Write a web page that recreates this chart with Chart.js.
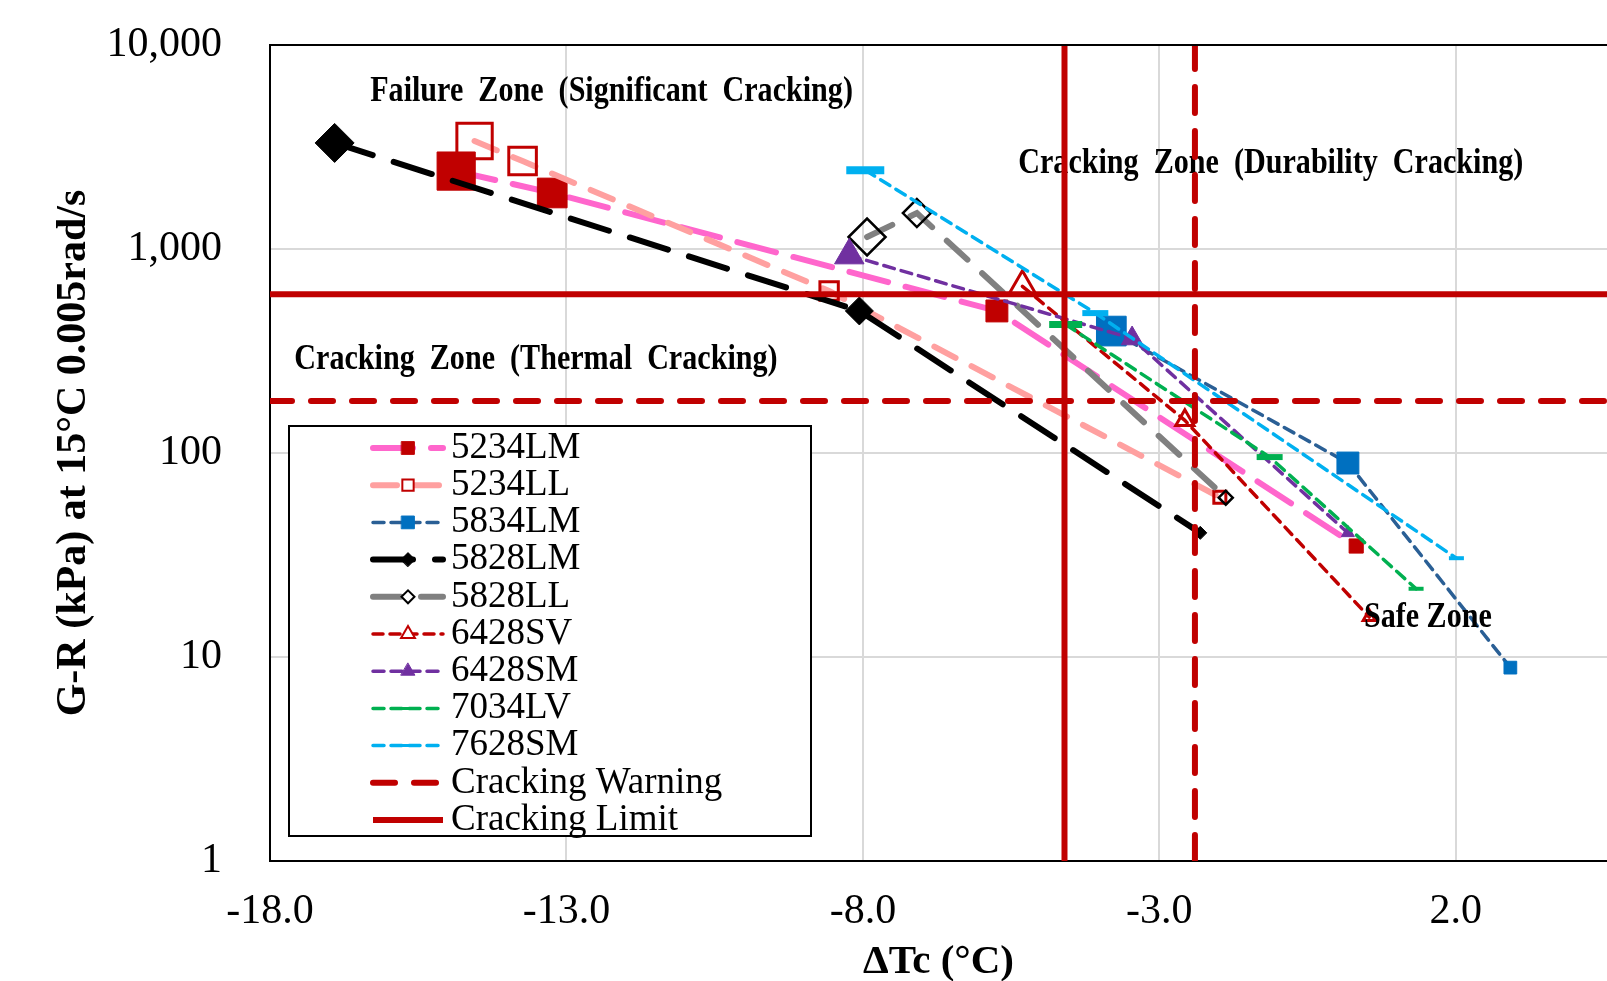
<!DOCTYPE html>
<html>
<head>
<meta charset="utf-8">
<script src="https://cdn.jsdelivr.net/npm/chart.js@4.4.0/dist/chart.umd.min.js"></script>
<style>
  html, body { margin: 0; padding: 0; background: #fff; }
  #wrap { position: relative; width: 1607px; height: 981px; }
</style>
</head>
<body>
<div id="wrap"><canvas id="myChart"></canvas></div>
<script>
// binders in legend order
var names = ['5234LM', '5234LL', '5834LM', '5828LM', '5828LL', '6428SV', '6428SM', '7034LV', '7628SM'];

// delta Tc (C) and G-R (kPa)
var dtc5234LM = [-14.86, -13.24, -5.74, 0.32];
var gr5234LM = [2410, 1882, 497, 35.0];
var dtc5234LL = [-14.55, -13.74, -8.57, -1.98];
var gr5234LL = [3384, 2698, 622, 60.7];
var dtc5834LM = [-3.81, 0.18, 2.92];
var gr5834LM = [396, 89.3, 8.87];
var dtc5828LM = [-16.91, -8.06, -2.31];
var gr5828LM = [3311, 497, 40.6];
var dtc5828LL = [-7.93, -7.09, -1.88];
var gr5828LL = [1145, 1500, 60.4];
var dtc6428SV = [-5.31, -2.57, 0.54];
var gr6428SV = [656, 144.6, 15.7];
var dtc6428SM = [-8.23, -3.46, 0.18];
var gr6428SM = [931, 364, 40.6];
var dtc7034LV = [-4.58, -1.14, 1.33];
var gr7034LV = [426, 95.5, 21.6];
var dtc7628SM = [-7.96, -4.08, 2.01];
var gr7628SM = [2433, 485, 30.5];

// criteria
var warnGR = 180, limitGR = 600;
var warnDTc = -2.4, limitDTc = -4.6;

var xTicks = [-18, -13, -8, -3, 2];
var yTicks = [1, 10, 100, 1000, 10000];
var xMin = -18, xMax = 4.55;

var zoneText = ['Failure  Zone  (Significant  Cracking)', 'Cracking  Zone  (Durability  Cracking)',
    'Cracking  Zone  (Thermal  Cracking)', 'Safe Zone'];
var zoneX = [-16.31, -5.38, -17.59, 0.45];
var zoneY = [5862, 2600, 285, 15.5];

var seriesX = [dtc5234LM, dtc5234LL, dtc5834LM, dtc5828LM, dtc5828LL, dtc6428SV, dtc6428SM, dtc7034LV, dtc7628SM];
var seriesY = [gr5234LM, gr5234LL, gr5834LM, gr5828LM, gr5828LL, gr6428SV, gr6428SM, gr7034LV, gr7628SM];

var red = '#C00000';
var none = 'rgba(0,0,0,0)';
var styles = [
    {line: '#FF66CC', width: 6, dash: [40, 18], marker: 'rect', fill: red, edge: red, edgeW: 1, radius: [27, 21, 15.5, 10], legR: 9},
    {line: '#FFA0A0', width: 6, dash: [24, 18], marker: 'rect', fill: none, edge: red, edgeW: 3, radius: [25, 19.5, 13, 8.5], legR: 8},
    {line: '#2A5F95', width: 3.5, dash: [11, 7], marker: 'rect', fill: '#0070C0', edge: '#0070C0', edgeW: 1, radius: [21, 15.5, 9], legR: 9},
    {line: '#000000', width: 6, dash: [40, 22], marker: 'rectRot', fill: '#000', edge: '#000', edgeW: 1, radius: [19.5, 14, 6.5], legR: 7},
    {line: '#808080', width: 6, dash: [28, 20], marker: 'rectRot', fill: none, edge: '#000', edgeW: 2.5, radius: [18.5, 14, 7], legR: 6.5},
    {line: red, width: 3.5, dash: [10, 7], marker: 'triangle', fill: none, edge: red, edgeW: 3, radius: [15.5, 10.5, 7], legR: 8},
    {line: '#7030A0', width: 3.5, dash: [11, 7], marker: 'triangle', fill: '#7030A0', edge: '#7030A0', edgeW: 1, radius: [17, 12.5, 7.5], legR: 8},
    {line: '#00B050', width: 3.5, dash: [11, 7], marker: 'line', fill: '#00B050', edge: '#00B050', edgeW: [7, 6, 4], radius: [16.5, 13, 7.5], legR: 7},
    {line: '#00B0F0', width: 3.5, dash: [11, 7], marker: 'line', fill: '#00B0F0', edge: '#00B0F0', edgeW: [8, 6, 4], radius: [19, 13, 7.5], legR: 7}
];

var datasets = names.map(function (name, i) {
    var s = styles[i];
    return {
        label: name,
        data: seriesX[i].map(function (x, j) { return {x: x, y: seriesY[i][j]}; }),
        showLine: true,
        borderColor: s.line,
        borderWidth: s.width,
        borderDash: s.dash,
        borderCapStyle: 'round',
        pointStyle: s.marker,
        pointRadius: s.radius,
        pointHoverRadius: s.radius,
        pointBackgroundColor: s.fill,
        pointBorderColor: s.edge,
        pointBorderWidth: s.edgeW,
        order: 20 - i,
        legR: s.legR
    };
});

function critLine(label, pts, dash, order) {
    return {
        label: label, data: pts, showLine: true,
        borderColor: red, borderWidth: 6, borderDash: dash, borderCapStyle: dash.length ? 'round' : 'butt',
        pointRadius: 0, pointHoverRadius: 0, order: order, legR: 0
    };
}
datasets.push(critLine('Cracking Warning', [{x: xMin, y: warnGR}, {x: xMax + 5, y: warnGR}], [22, 19], 2));
var warnV = critLine('', [{x: warnDTc, y: yTicks[0]}, {x: warnDTc, y: yTicks[4]}], [26, 18], 2);
warnV.hideInLegend = true;
datasets.push(warnV);
datasets.push(critLine('Cracking Limit', [{x: xMin, y: limitGR}, {x: xMax + 5, y: limitGR}], [], 1));
var limitV = critLine('', [{x: limitDTc, y: yTicks[0]}, {x: limitDTc, y: yTicks[4]}], [], 1);
limitV.hideInLegend = true;
datasets.push(limitV);

function drawZones(chart, onTop) {
    var ctx = chart.ctx, xs = chart.scales.x, ys = chart.scales.y;
    ctx.save();
    ctx.font = 'bold 35px "Liberation Serif"';
    ctx.fillStyle = '#000';
    ctx.textBaseline = 'middle';
    zoneText.forEach(function (t, i) {
        if ((i === 3) !== onTop) return;
        ctx.save();
        ctx.translate(xs.getPixelForValue(zoneX[i]), ys.getPixelForValue(zoneY[i]));
        ctx.scale(0.86, 1);
        ctx.fillText(t, 0, 0);
        ctx.restore();
    });
    ctx.restore();
}

var extras = {
    id: 'extras',
    beforeDatasetsDraw: function (chart) { drawZones(chart, false); },
    afterDatasetsDraw: function (chart) { drawZones(chart, true); },
    afterDraw: function (chart) {
        var ctx = chart.ctx, area = chart.chartArea;
        ctx.save();
        // top frame line
        ctx.strokeStyle = '#000';
        ctx.lineWidth = 2;
        ctx.beginPath();
        ctx.moveTo(area.left, area.top);
        ctx.lineTo(area.right, area.top);
        ctx.stroke();

        // legend box
        var bx = 289, by = 426, bw = 522, bh = 410;
        ctx.fillStyle = '#fff';
        ctx.fillRect(bx, by, bw, bh);
        ctx.strokeRect(bx, by, bw, bh);
        ctx.font = '37px "Liberation Serif"';
        ctx.textBaseline = 'middle';
        var row = 0;
        chart.data.datasets.forEach(function (ds) {
            if (ds.hideInLegend) return;
            var y = 448 + row * 37.2;
            row++;
            ctx.save();
            ctx.strokeStyle = ds.borderColor;
            ctx.lineWidth = ds.borderWidth;
            ctx.lineCap = ds.borderCapStyle;
            ctx.setLineDash(ds.borderDash || []);
            ctx.beginPath();
            ctx.moveTo(373, y);
            ctx.lineTo(443, y);
            ctx.stroke();
            ctx.setLineDash([]);
            if (ds.legR > 0) {
                var bwid = Array.isArray(ds.pointBorderWidth) ? 3 : Math.min(ds.pointBorderWidth, 2);
                ctx.fillStyle = ds.pointBackgroundColor === none ? '#fff' : ds.pointBackgroundColor;
                ctx.strokeStyle = ds.pointBorderColor;
                ctx.lineWidth = bwid;
                Chart.helpers.drawPoint(ctx, {pointStyle: ds.pointStyle, rotation: 0, radius: ds.legR, borderWidth: bwid}, 408, y);
            }
            ctx.restore();
            ctx.fillStyle = '#000';
            ctx.fillText(ds.label, 451, y);
        });
        ctx.restore();
    }
};

Chart.defaults.font.family = '"Liberation Serif", "Times New Roman", serif';
Chart.defaults.color = '#000';

var canvas = document.getElementById('myChart');
var ctx = canvas.getContext('2d');
var myChart = new Chart(ctx, {
    type: 'scatter',
    data: {datasets: datasets},
    options: {
        responsive: true,
        maintainAspectRatio: false,
        animation: false,
        layout: {autoPadding: false, padding: {top: 45, left: 0, right: 0, bottom: 0}},
        plugins: {legend: {display: false}, tooltip: {enabled: false}},
        elements: {line: {tension: 0}},
        scales: {
            x: {
                type: 'linear',
                min: xMin,
                max: xMax,
                afterBuildTicks: function (scale) {
                    scale.ticks = xTicks.map(function (v) { return {value: v}; });
                },
                afterFit: function (scale) {
                    scale.height = 120;
                    scale.paddingLeft = 0;
                    scale.paddingRight = 0;
                },
                ticks: {
                    font: {size: 42},
                    padding: 26,
                    maxRotation: 0,
                    callback: function (v) { return Number(v).toFixed(1); }
                },
                grid: {color: '#D9D9D9', lineWidth: 2, drawTicks: false},
                border: {color: '#000', width: 2},
                title: {
                    display: true,
                    text: 'ΔTc (°C)',
                    font: {size: 41, weight: 'bold', lineHeight: 1},
                    padding: {top: 0, bottom: -2}
                }
            },
            y: {
                type: 'logarithmic',
                min: 1,
                max: 10000,
                afterBuildTicks: function (scale) {
                    scale.ticks = yTicks.map(function (v) { return {value: v}; });
                },
                afterFit: function (scale) {
                    scale.width = 270;
                    scale.paddingTop = 0;
                    scale.paddingBottom = 0;
                },
                ticks: {
                    font: {size: 42},
                    padding: 48,
                    callback: function (v) { return Number(v).toLocaleString('en-US'); }
                },
                grid: {color: '#D9D9D9', lineWidth: 2, drawTicks: false},
                border: {color: '#000', width: 2},
                title: {
                    display: true,
                    text: 'G-R (kPa) at 15°C 0.005rad/s',
                    font: {size: 42, weight: 'bold', lineHeight: 1},
                    padding: {top: 53, bottom: 0}
                }
            }
        }
    },
    plugins: [extras]
});
</script>
</body>
</html>
